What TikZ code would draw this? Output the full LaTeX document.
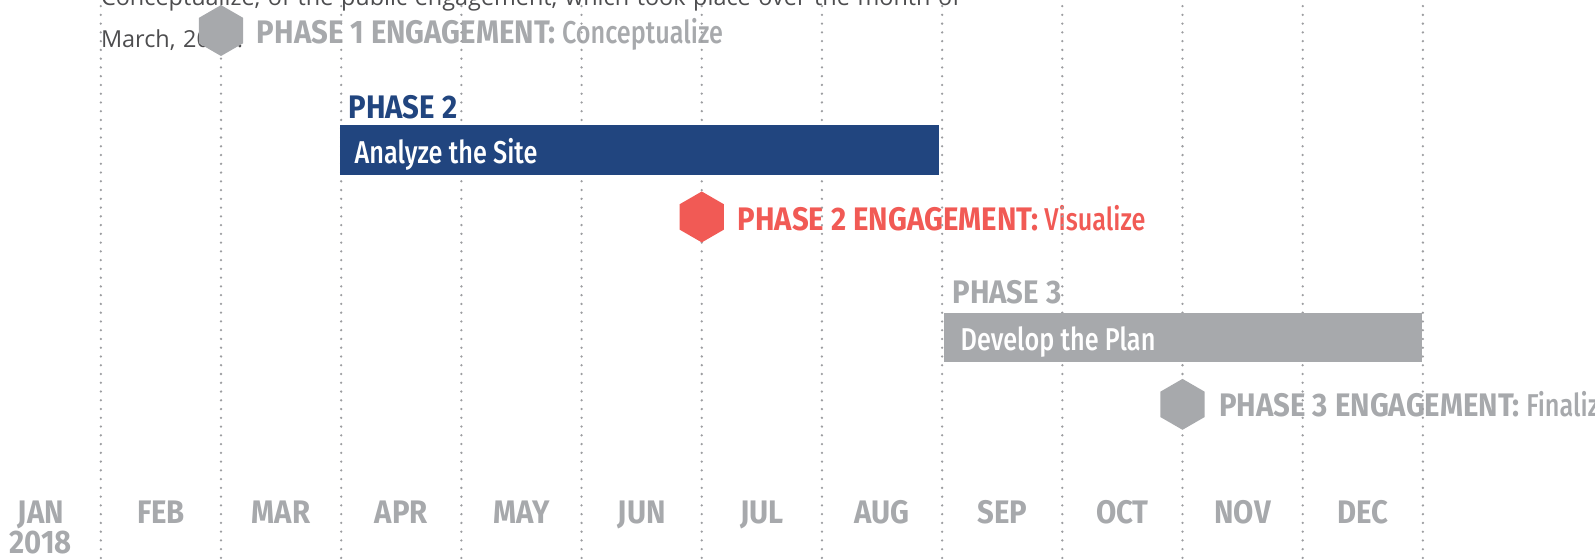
\documentclass[tikz,border=0pt]{standalone}
\usepackage{fontspec}
\usetikzlibrary{shapes.geometric}
\newfontfamily\condb{Fira Sans Bold}[FakeStretch=0.9]
\newfontfamily\condr{Fira Sans Medium}[FakeStretch=0.8]
\newfontfamily\introf{Open Sans}[WordSpace=1.25]
\definecolor{navy}{HTML}{21457F}
\definecolor{coral}{HTML}{F15A55}
\definecolor{gry}{HTML}{A7A9AC}
\definecolor{dots}{HTML}{9C9DA0}
\definecolor{txt}{HTML}{4D4D4F}
\tikzset{
  monthlbl/.style={font=\condb\fontsize{32}{32}\selectfont, text=gry, inner sep=0pt, anchor=base},
  vline/.style={dots, line width=2.5pt, line cap=round, dash pattern=on 0pt off 8.6pt},
  hexa/.style={regular polygon, regular polygon sides=6, shape border rotate=30, minimum size=50pt, inner sep=0pt, draw=none},
  englbl/.style={inner sep=0pt, anchor=base west, font=\condr\fontsize{31}{31}\selectfont},
  phaselbl/.style={inner sep=0pt, anchor=base west, font=\condb\fontsize{32}{32}\selectfont},
  bartext/.style={inner sep=0pt, anchor=base west, text=white, font=\condr\fontsize{31}{31}\selectfont},
  intro/.style={inner sep=0pt, anchor=base west, text=txt, font=\introf\fontsize{23}{23}\selectfont}
}
\begin{document}
\begin{tikzpicture}[x=1pt,y=-1pt]
\useasboundingbox (0,0) rectangle (1566,548);
% intro text
\node[intro] (intro1) at (99,5) {Conceptualize, of the public engagement, which took place over the month of};
\node[intro] (intro2) at (99,47) {March, 2018.};
% month labels
\foreach \m/\i in {JAN/0,FEB/1,MAR/2,APR/3,MAY/4,JUN/5,JUL/6,AUG/7,SEP/8,OCT/9,NOV/10,DEC/11}{
  \node[monthlbl] (m\i) at (40+118*\i,514) {\m};
}
\node[monthlbl] (yr) at (40,543) {2018};
% engagement labels
\node[englbl] (e1) at (252,43) {\textcolor{gry}{{\condb\fontsize{32}{32}\selectfont PHASE 1 ENGAGEMENT:} Conceptualize}};
\node[englbl] (e2) at (724,226) {\textcolor{coral}{{\condb\fontsize{32}{32}\selectfont PHASE 2 ENGAGEMENT:} Visualize}};
\node[englbl] (e3) at (1197,409) {\textcolor{gry}{{\condb\fontsize{32}{32}\selectfont PHASE 3 ENGAGEMENT:} Finalize}};
\node[phaselbl, text=navy] (p2) at (342,116) {PHASE 2};
\node[phaselbl, text=gry] (p3) at (935,298) {PHASE 3};
% dotted month lines
\foreach \i in {0,...,11}{
  \draw[vline] (99+118*\i,6) -- (99+118*\i,548);
}
% bars
\fill[navy] (334,123) rectangle (922,172);
\node[bartext] (b2) at (348,161) {Analyze the Site};
\fill[gry] (927,307) rectangle (1396,355);
\node[bartext] (b3) at (943,344) {Develop the Plan};
% hexagons
\node[hexa, fill=gry] (h1) at (217,30) {};
\node[hexa, fill=coral] (h2) at (689,213) {};
\node[hexa, fill=gry] (h3) at (1161,397) {};
\end{tikzpicture}
\end{document}
